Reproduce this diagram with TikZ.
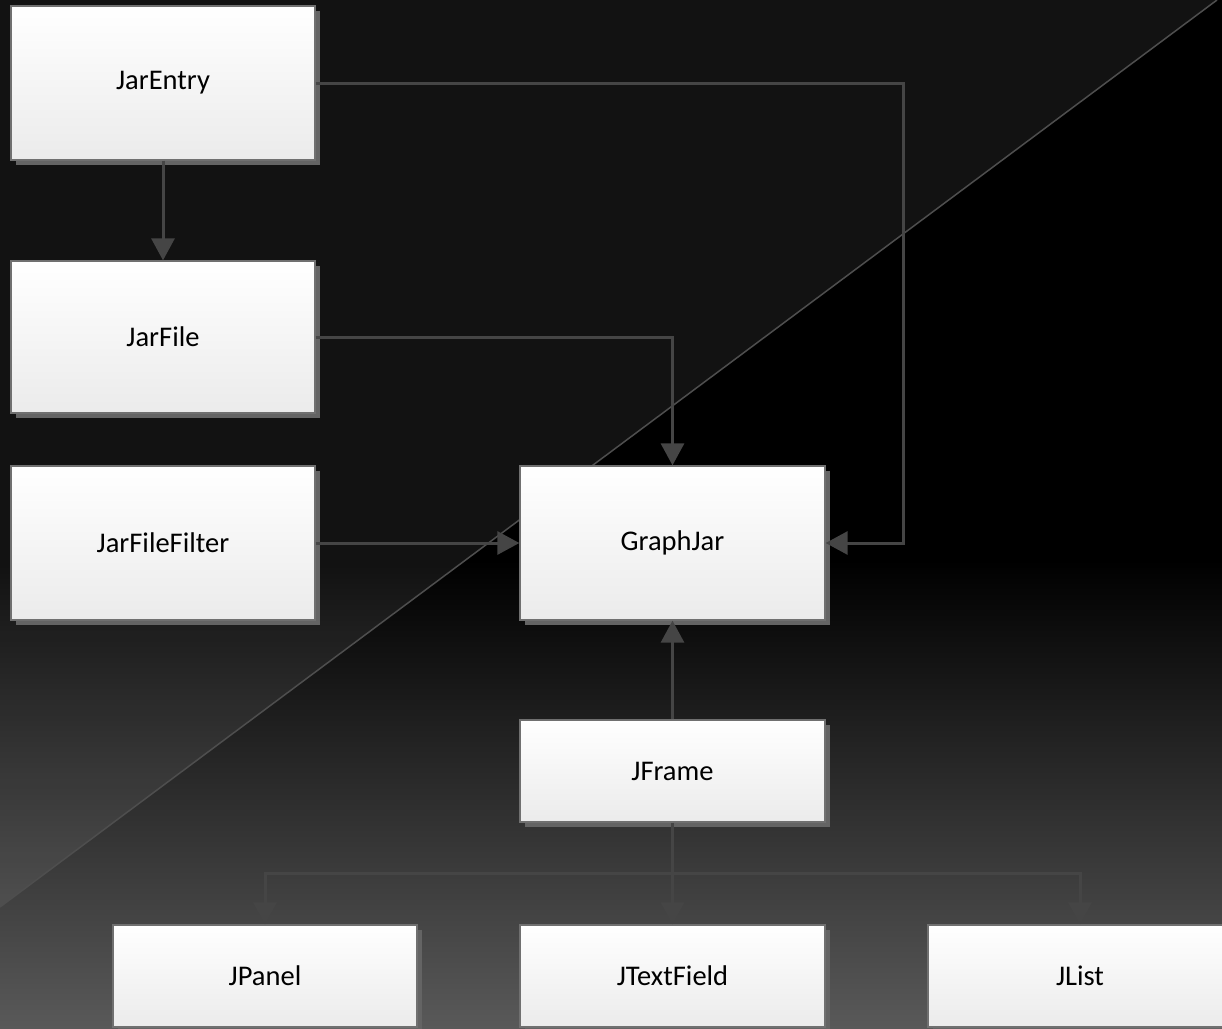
\documentclass[tikz,border=0pt]{standalone}
\usepackage{fontspec}
\setmainfont{Carlito}
\usetikzlibrary{arrows.meta,shadows}
\definecolor{boxborder}{HTML}{707070}
\definecolor{boxbottom}{HTML}{EBEBEB}
\definecolor{shadowgray}{HTML}{646464}
\definecolor{conncol}{HTML}{454545}
\definecolor{bgbottom}{HTML}{595959}
\definecolor{diagline}{HTML}{4E4E4E}
\tikzset{
  box/.style={draw=boxborder, line width=1.3pt, top color=white, bottom color=boxbottom,
    minimum width=304pt, inner sep=0pt, text=black,
    font=\fontsize{28.5}{34}\selectfont,
    drop shadow={shadow xshift=5pt, shadow yshift=-5pt, fill=shadowgray, opacity=1}},
  tallbox/.style={box, minimum height=154pt},
  flatbox/.style={box, minimum height=102pt},
  conn/.style={draw=conncol, line width=3pt, -{Triangle[width=23pt,length=22pt]}},
  plainconn/.style={draw=conncol, line width=3pt}
}
\begin{document}
\begin{tikzpicture}[x=1pt,y=-1pt]
\useasboundingbox (0,0) rectangle (1222,1028);
\clip (0,0) rectangle (1222,1028);
% background
\fill[black] (0,0) rectangle (1222,1028);
\shade[top color=black, bottom color=bgbottom] (0,560) rectangle (1222,1028);
\fill[white, opacity=0.07] (0,0) -- (1217,0) -- (0,907) -- cycle;
\draw[diagline, line width=1.5pt] (0,907) -- (1217,0);
% nodes
\node[tallbox] (jarentry) at (163,83) {JarEntry};
\node[tallbox, minimum height=152pt] (jarfile) at (163,337) {JarFile};
\node[tallbox] (jarfilefilter) at (163,543) {JarFileFilter};
\node[tallbox, minimum width=305pt] (graphjar) at (672.5,543) {GraphJar};
\node[flatbox, minimum width=305pt] (jframe) at (672.5,771) {JFrame};
\node[flatbox] (jpanel) at (265,976) {JPanel};
\node[flatbox, minimum width=305pt] (jtextfield) at (672.5,976) {JTextField};
\node[flatbox] (jlist) at (1080,976) {JList};
% helper coordinates
\coordinate (rturn) at (903,543);
\coordinate (split) at (672.5,873);
% connectors
\draw[conn] (jarentry.east) -| (rturn) -- (graphjar.east);
\draw[conn] (jarentry.south) -- (jarfile.north);
\draw[conn] (jarfile.east) -| (graphjar.north);
\draw[conn] (jarfilefilter.east) -- (graphjar.west);
\draw[conn] (jframe.north) -- (graphjar.south);
\draw[plainconn] (jframe.south) -- (split);
\draw[conn] (split) -| (jpanel.north);
\draw[conn] (split) -- (jtextfield.north);
\draw[conn] (split) -| (jlist.north);
\end{tikzpicture}
\end{document}
